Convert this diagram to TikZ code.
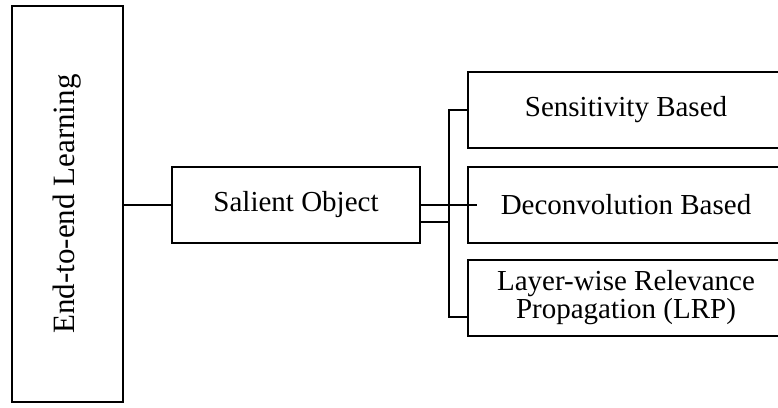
\documentclass[tikz,border=0pt]{standalone}
\usepackage{fontspec}
\setmainfont{Liberation Serif}
\usepackage{graphicx}
\usetikzlibrary{calc}
\begin{document}
\begin{tikzpicture}[x=1pt,y=-1pt,
  line width=2pt,
  box/.style={draw, line width=2pt, inner sep=0pt, font=\fontsize{29}{28}\selectfont},
  rbox/.style={box, minimum width=316pt, minimum height=76pt}]
\useasboundingbox (0,0) rectangle (778,407);
\clip (0,0) rectangle (778,407);
\node[box, minimum width=111pt, minimum height=396pt, font=\fontsize{31}{30}\selectfont] (e2e) at (67.5,204) {\rotatebox{90}{End-to-end Learning}};
\node[box, minimum width=248pt, minimum height=76pt] (sal) at (296,205) {Salient Object};
\node[rbox] (sens) at (626,110) {Sensitivity Based};
\node[rbox] (dec) at (626,205) {Deconvolution Based};
\node[rbox, align=center] (lrp) at (626,298) {Layer-wise Relevance\\Propagation (LRP)};
\coordinate (bx) at (449,0);
\coordinate (s2) at ($(sal.east)+(0,17)$);
\coordinate (l2) at ($(lrp.west)+(0,19)$);
\coordinate (dend) at ($(dec.west)+(10,0)$);
\draw (sal.west -| e2e.east) -- (sal.west);
\draw (sal.east) -- (dend);
\draw (s2) -- (s2 -| bx);
\draw (sens.west) -- (sens.west -| bx) -- (l2 -| bx) -- (l2);
\end{tikzpicture}
\end{document}
